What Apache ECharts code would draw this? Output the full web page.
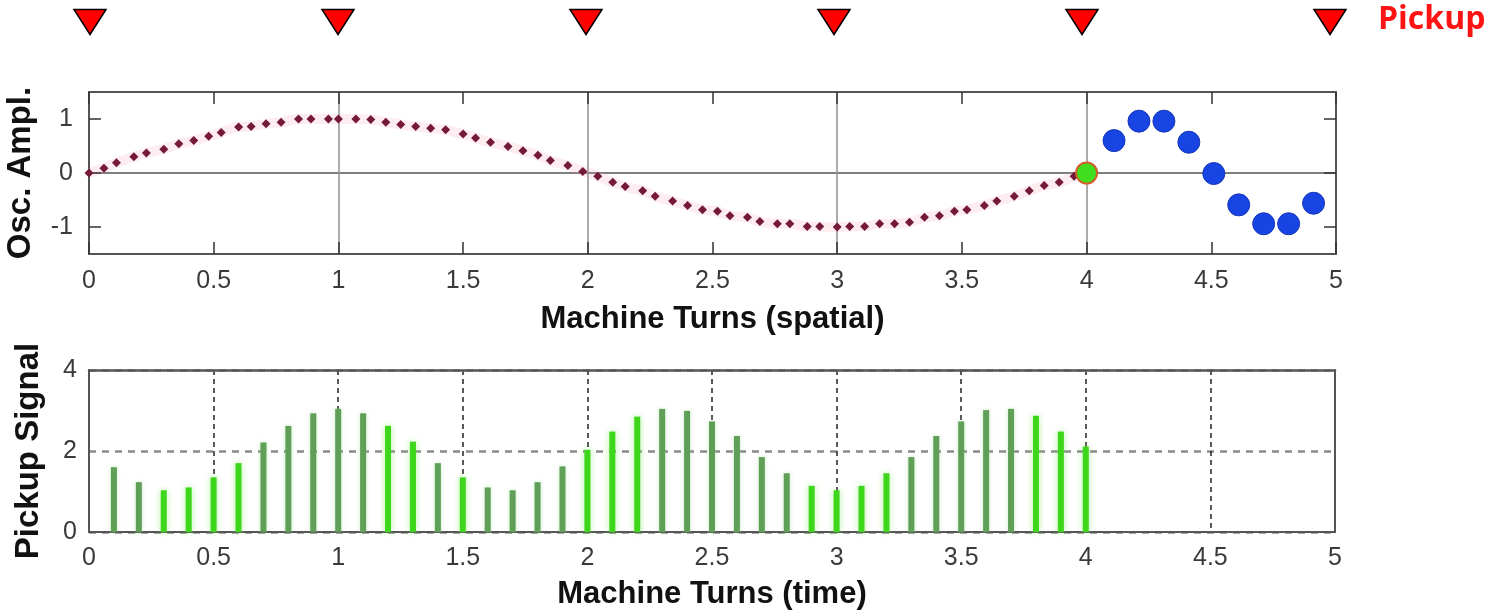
<!DOCTYPE html>
<html>
<head>
<meta charset="utf-8">
<script src="https://cdn.jsdelivr.net/npm/echarts@6/dist/echarts.min.js"></script>
<style>
html,body{margin:0;padding:0;background:#fff;}
#chart{width:1498px;height:613px;}
</style>
</head>
<body>
<div id="chart"></div>
<script>
// ---- data ----
const pickupPositions = [0, 1, 2, 3, 4, 5];
const oscX = [0.00,0.06,0.11,0.18,0.23,0.30,0.36,0.42,0.48,0.53,0.60,0.65,0.71,0.77,0.84,0.89,0.96,1.00,
  1.07,1.13,1.19,1.25,1.31,1.37,1.43,1.50,1.55,1.61,1.68,1.74,1.80,1.85,1.92,1.98,
  2.04,2.10,2.15,2.22,2.27,2.34,2.40,2.46,2.52,2.57,2.64,2.69,2.76,2.81,2.88,2.93,3.00,
  3.05,3.11,3.17,3.23,3.29,3.35,3.41,3.47,3.52,3.59,3.64,3.71,3.77,3.83,3.89,3.95];
const oscY = [0.00,0.09,0.19,0.30,0.37,0.44,0.54,0.60,0.68,0.75,0.85,0.86,0.91,0.94,1.00,1.00,1.00,1.00,
  1.00,0.99,0.94,0.90,0.86,0.83,0.80,0.72,0.65,0.57,0.49,0.41,0.33,0.23,0.14,0.03,
  -0.06,-0.17,-0.25,-0.33,-0.43,-0.52,-0.60,-0.68,-0.71,-0.79,-0.82,-0.90,-0.94,-0.94,-0.99,-0.99,-1.00,
  -0.99,-0.99,-0.94,-0.94,-0.91,-0.82,-0.79,-0.71,-0.68,-0.60,-0.52,-0.43,-0.33,-0.23,-0.17,-0.06];
const currentX = [4.0];
const currentY = [0.0];
const futureX = [4.11,4.21,4.31,4.41,4.51,4.61,4.71,4.81,4.91];
const futureY = [0.60,0.96,0.96,0.57,-0.01,-0.59,-0.94,-0.94,-0.56];
const signalX = [0.1,0.2,0.3,0.4,0.5,0.6,0.7,0.8,0.9,1.0,1.1,1.2,1.3,1.4,1.5,1.6,1.7,1.8,1.9,2.0,
  2.1,2.2,2.3,2.4,2.5,2.6,2.7,2.8,2.9,3.0,3.1,3.2,3.3,3.4,3.5,3.6,3.7,3.8,3.9,4.0];
const signalY = [1.60,1.23,1.03,1.10,1.35,1.70,2.21,2.62,2.93,3.04,2.93,2.62,2.23,1.70,1.35,1.10,1.03,1.23,1.62,2.03,
  2.48,2.85,3.04,2.99,2.73,2.37,1.85,1.45,1.14,1.03,1.14,1.45,1.85,2.37,2.73,3.01,3.04,2.87,2.48,2.11];
const xTicksTop = [0, 5, 0.5];      // min, max, interval
const yTicksTop = [-1, 0, 1];
const xTicksBottom = [0, 5, 0.5];
const yTicksBottom = [0, 4, 2];
const topXName = 'Machine Turns (spatial)';
const bottomXName = 'Machine Turns (time)';
const topYName = 'Osc. Ampl.';
const bottomYName = 'Pickup Signal';
const pickupLabel = 'Pickup';

// ---- styling ----
const brightBars = new Set([2,3,4,5,11,12,14,19,20,21,28,29,30,31,37,38,39]);
const frameColor = '#555';
const labelStyle = {fontFamily:'Liberation Sans', fontSize:25, color:'#3a3a3a'};
const xNameStyle = {fontFamily:'Liberation Sans', fontSize:31, fontWeight:'bold', color:'#111'};
const yNameStyle = {fontFamily:'Liberation Sans', fontSize:33, fontWeight:'bold', color:'#111'};
const zip = (a,b) => a.map((v,i)=>[v,b[i]]);

const chart = echarts.init(document.getElementById('chart'), null, {renderer:'canvas'});
const option = {
  backgroundColor:'#fff',
  animation:false,
  grid:[
    {left:89, top:92, width:1247, height:162, containLabel:false, outerBoundsMode:'none'},
    {left:89, top:370, width:1246, height:162, containLabel:false, outerBoundsMode:'none'},
    {left:90, top:1, width:1240, height:42, containLabel:false, outerBoundsMode:'none'}
  ],
  xAxis:[
    {gridIndex:0, type:'value', position:'bottom', min:xTicksTop[0], max:xTicksTop[1], interval:xTicksTop[2],
     axisLine:{show:true, onZero:false, lineStyle:{color:frameColor, width:2}},
     axisTick:{show:true, inside:true, length:12, lineStyle:{color:'#333', width:1.5}},
     axisLabel:Object.assign({show:true, margin:15}, labelStyle),
     splitLine:{show:false},
     name:topXName, nameLocation:'middle', nameGap:50, nameTextStyle:xNameStyle},
    {gridIndex:0, type:'value', position:'top', min:xTicksTop[0], max:xTicksTop[1], interval:xTicksTop[2],
     axisLine:{show:true, onZero:false, lineStyle:{color:frameColor, width:2}},
     axisTick:{show:true, inside:true, length:12, lineStyle:{color:'#333', width:1.5}},
     axisLabel:{show:false}, splitLine:{show:false}},
    {gridIndex:0, type:'value', min:xTicksTop[0], max:xTicksTop[1], interval:1,
     axisLine:{show:false, onZero:false}, axisTick:{show:false}, axisLabel:{show:false},
     splitLine:{show:true, lineStyle:{color:'#8f8f8f', width:1.5}}},
    {gridIndex:1, type:'value', position:'bottom', min:xTicksBottom[0], max:xTicksBottom[1], interval:xTicksBottom[2],
     axisLine:{show:true, onZero:false, lineStyle:{color:frameColor, width:2}},
     axisTick:{show:false},
     axisLabel:Object.assign({show:true, margin:14}, labelStyle),
     splitLine:{show:true, lineStyle:{color:'#222', width:1.5, type:[5,4]}},
     name:bottomXName, nameLocation:'middle', nameGap:47, nameTextStyle:xNameStyle},
    {gridIndex:1, type:'value', position:'top', min:xTicksBottom[0], max:xTicksBottom[1], interval:xTicksBottom[2],
     axisLine:{show:true, onZero:false, lineStyle:{color:frameColor, width:2.5}},
     axisTick:{show:false}, axisLabel:{show:false}, splitLine:{show:false}},
    {gridIndex:2, type:'value', min:0, max:5, show:false}
  ],
  yAxis:[
    {gridIndex:0, type:'value', position:'left', min:-1.5, max:1.5,
     axisLine:{show:true, onZero:false, lineStyle:{color:frameColor, width:2}},
     axisTick:{show:true, inside:true, length:12, customValues:yTicksTop, lineStyle:{color:'#333', width:1.5}},
     axisLabel:Object.assign({show:true, margin:16, customValues:yTicksTop}, labelStyle),
     splitLine:{show:false},
     name:topYName, nameLocation:'middle', nameGap:52, nameTextStyle:yNameStyle},
    {gridIndex:0, type:'value', position:'right', min:-1.5, max:1.5,
     axisLine:{show:true, onZero:false, lineStyle:{color:frameColor, width:2}},
     axisTick:{show:true, inside:true, length:12, customValues:yTicksTop, lineStyle:{color:'#333', width:1.5}},
     axisLabel:{show:false}, splitLine:{show:false}},
    {gridIndex:0, type:'value', min:-1.5, max:1.5, interval:1.5,
     axisLine:{show:false, onZero:false}, axisTick:{show:false}, axisLabel:{show:false},
     splitLine:{show:true, lineStyle:{color:'#555', width:1.5}}},
    {gridIndex:1, type:'value', position:'left', min:yTicksBottom[0], max:yTicksBottom[1], interval:yTicksBottom[2],
     axisLine:{show:true, onZero:false, lineStyle:{color:frameColor, width:2}},
     axisTick:{show:false},
     axisLabel:Object.assign({show:true, margin:12}, labelStyle),
     splitLine:{show:true, lineStyle:{color:'#8a8a8a', width:2.5, type:[7,6]}},
     name:bottomYName, nameLocation:'middle', nameGap:44, nameTextStyle:yNameStyle},
    {gridIndex:1, type:'value', position:'right', min:yTicksBottom[0], max:yTicksBottom[1], interval:yTicksBottom[2],
     axisLine:{show:true, onZero:false, lineStyle:{color:frameColor, width:2}},
     axisTick:{show:false}, axisLabel:{show:false}, splitLine:{show:false}},
    {gridIndex:2, type:'value', min:0, max:1, show:false}
  ],
  graphic:[
    {type:'text', left:1378, top:4, style:{text:pickupLabel, fill:'#ff1414',
      font:'bold 32px "Open Sans", "Liberation Sans", sans-serif'}}
  ],
  series:[
    {type:'line', xAxisIndex:0, yAxisIndex:0, data:zip(oscX, oscY), showSymbol:false, smooth:true,
     lineStyle:{color:'rgba(245,140,170,0.16)', width:10}, silent:true, z:1},
    {type:'scatter', xAxisIndex:0, yAxisIndex:0, data:zip(oscX, oscY), symbol:'diamond', symbolSize:9,
     itemStyle:{color:'#741a38', opacity:1}, z:3},
    {type:'scatter', xAxisIndex:0, yAxisIndex:0, data:zip(futureX, futureY), symbol:'circle', symbolSize:22,
     itemStyle:{color:'#1744e2', borderColor:'#1436b8', borderWidth:1, opacity:1}, z:4},
    {type:'scatter', xAxisIndex:0, yAxisIndex:0, data:zip(currentX, currentY), symbol:'circle', symbolSize:21,
     itemStyle:{color:'#3fdf1f', borderColor:'#d0602a', borderWidth:2, opacity:1}, z:5},
    {type:'bar', xAxisIndex:3, yAxisIndex:3, barWidth:6,
     data:zip(signalX, signalY).map((p,i)=>({value:p, itemStyle: brightBars.has(i)
        ? {color:'#3ed61a', shadowColor:'rgba(120,235,90,0.6)', shadowBlur:6}
        : {color:'#5f9f58', shadowColor:'rgba(150,220,140,0.5)', shadowBlur:4}})), z:3},
    {type:'scatter', xAxisIndex:5, yAxisIndex:5, data:pickupPositions.map(v=>[v,0.5]),
     symbol:'triangle', symbolRotate:180, symbolSize:[32,25],
     itemStyle:{color:'#ff0000', borderColor:'#000', borderWidth:1.5, opacity:1}}
  ]
};
chart.setOption(option);
</script>
</body>
</html>
